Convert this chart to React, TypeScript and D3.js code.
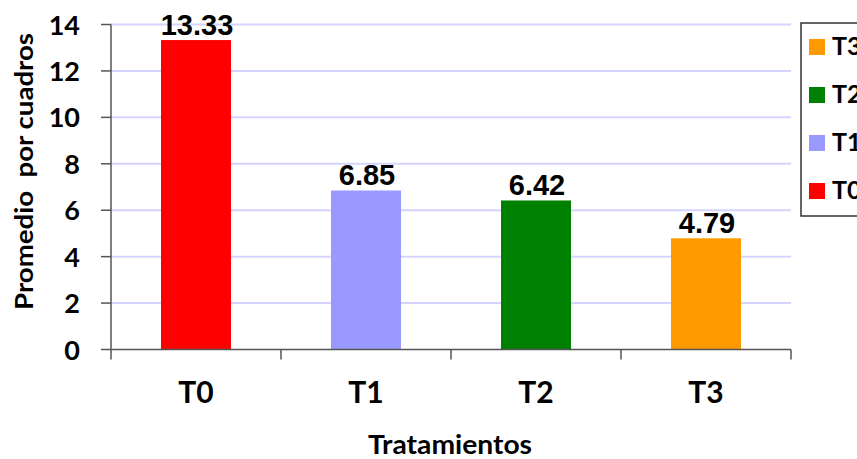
import React from "react";
import * as d3 from "d3";

const categories = ["T0", "T1", "T2", "T3"];
const values = [13.33, 6.85, 6.42, 4.79];
const colors = ["#ff0000", "#9999ff", "#008000", "#ff9900"];
const yTicks = [0, 2, 4, 6, 8, 10, 12, 14];
const legendOrder = ["T3", "T2", "T1", "T0"];
const yTitle = "Promedio  por cuadros";
const xTitle = "Tratamientos";

const W = 857;
const H = 459;
const left = 111;
const right = 791;
const top = 24.5;
const bottom = 349.5;

export default function App() {
  const x = d3.scaleBand<string>().domain(categories).range([left, right]).paddingInner(100 / 170).paddingOuter(50 / 170);
  const y = d3.scaleLinear().domain([0, 14]).range([bottom, top]);
  const step = x.step();
  const boundaries = d3.range(categories.length + 1).map((i) => left + i * step);
  const colorOf = (c: string) => colors[categories.indexOf(c)];
  const labelFont = "Lato, 'Open Sans', sans-serif";

  return (
    <svg width={W} height={H} style={{ position: "absolute", left: 0, top: 0, background: "#fff" }}>
      {yTicks.filter((t) => t > 0).map((t) => (
        <line key={"g" + t} x1={left} x2={right} y1={y(t)} y2={y(t)} stroke="#d4d4ff" strokeWidth={2} />
      ))}
      {categories.map((c, i) => (
        <rect key={c} x={x(c)} y={y(values[i])} width={x.bandwidth()} height={bottom - y(values[i])} fill={colors[i]} />
      ))}
      {categories.map((c, i) => (
        <text key={"v" + c} x={(x(c) as number) + x.bandwidth() / 2 + 1} y={y(values[i]) - 5}
          textAnchor="middle" fontFamily="'Liberation Sans', Arial, sans-serif" fontWeight="bold" fontSize={29} fill="#000">
          {values[i].toFixed(2)}
        </text>
      ))}
      <line x1={left} x2={left} y1={top} y2={bottom} stroke="#555" strokeWidth={1.5} />
      {yTicks.map((t) => (
        <g key={"t" + t}>
          <line x1={left - 10} x2={left} y1={y(t)} y2={y(t)} stroke="#555" strokeWidth={1.5} />
          <text x={80} y={y(t) + 10} textAnchor="end" fontFamily={labelFont} fontWeight="bold" fontSize={27} fill="#000">{t}</text>
        </g>
      ))}
      <line x1={left} x2={right} y1={bottom} y2={bottom} stroke="#555" strokeWidth={1.5} />
      {boundaries.map((b, i) => (
        <line key={"b" + i} x1={b} x2={b} y1={bottom} y2={bottom + 10} stroke="#555" strokeWidth={1.5} />
      ))}
      {categories.map((c) => (
        <text key={"c" + c} x={(x(c) as number) + x.bandwidth() / 2} y={403} textAnchor="middle"
          fontFamily={labelFont} fontWeight="bold" fontSize={30} fill="#000">{c}</text>
      ))}
      <text x={450} y={454} textAnchor="middle" fontFamily={labelFont} fontWeight="bold" fontSize={26}
        textLength={164} lengthAdjust="spacingAndGlyphs" fill="#000">{xTitle}</text>
      <text transform="translate(33,171.5) rotate(-90)" textAnchor="middle" fontFamily={labelFont} fontWeight="bold"
        fontSize={25} textLength={277} lengthAdjust="spacingAndGlyphs" fill="#000" style={{ whiteSpace: "pre" }}>{yTitle}</text>
      <rect x={801} y={23} width={120} height={193} fill="#fff" stroke="#333" strokeWidth={1.5} />
      {legendOrder.map((c, i) => (
        <g key={"l" + c}>
          <rect x={809} y={39 + i * 48} width={16} height={16} fill={colorOf(c)} />
          <text x={832} y={55 + i * 48} fontFamily={labelFont} fontWeight="bold" fontSize={25} fill="#000">{c}</text>
        </g>
      ))}
    </svg>
  );
}
